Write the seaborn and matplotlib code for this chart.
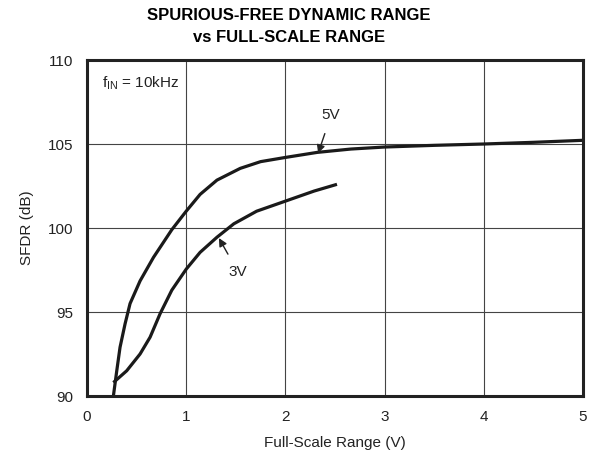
import matplotlib
matplotlib.use("Agg")
import matplotlib.pyplot as plt
import seaborn as sns
import pandas as pd

x_5v = [0.266, 0.30, 0.333, 0.384, 0.434, 0.535, 0.67, 0.855, 1.0, 1.14, 1.31, 1.545, 1.75, 2.0, 2.32, 2.66, 3.0, 3.5, 4.0, 4.5, 5.0]
y_5v = [90.0, 91.5, 92.9, 94.3, 95.5, 96.85, 98.25, 99.9, 101.0, 102.0, 102.85, 103.55, 103.95, 104.2, 104.5, 104.7, 104.82, 104.92, 105.0, 105.1, 105.22]
x_3v = [0.266, 0.40, 0.535, 0.636, 0.737, 0.855, 1.0, 1.14, 1.31, 1.48, 1.71, 2.0, 2.29, 2.52]
y_3v = [90.8, 91.5, 92.5, 93.5, 94.9, 96.3, 97.55, 98.55, 99.45, 100.25, 101.0, 101.6, 102.2, 102.6]
x_ticks = [0, 1, 2, 3, 4, 5]
y_ticks = [90, 95, 100, 105, 110]

sns.set_theme(style="white")
plt.rcParams['font.family'] = ['Liberation Sans', 'DejaVu Sans']

df = pd.concat([
    pd.DataFrame({"x": x_5v, "y": y_5v, "s": "5V"}),
    pd.DataFrame({"x": x_3v, "y": y_3v, "s": "3V"}),
])

fig = plt.figure(figsize=(5.97, 4.67), dpi=100)
ax = fig.add_axes([87/597, 1 - 396/467, 496/597, 336/467])
sns.lineplot(data=df, x="x", y="y", hue="s", palette={"5V": "#1a1a1a", "3V": "#1a1a1a"},
             sort=False, estimator=None, linewidth=2.3, legend=False, ax=ax,
             solid_joinstyle="round", solid_capstyle="butt")
ax.set_xlim(0, 5)
ax.set_ylim(90, 110)
ax.set_xticks(x_ticks)
ax.set_yticks(y_ticks)
ax.tick_params(length=0, labelsize=11, colors="#222222", pad=10)
ax.grid(True, color="#444444", linewidth=0.8)
for sp in ax.spines.values():
    sp.set_visible(True)
    sp.set_color("#222222")
    sp.set_linewidth(2.2)
ax.set_xlabel("Full-Scale Range (V)", fontsize=11, color="#222222", labelpad=9)
ax.set_ylabel("SFDR (dB)", fontsize=11, color="#222222", labelpad=10)
fig.text(289/597, 1 - 8/467, "SPURIOUS-FREE DYNAMIC RANGE\nvs FULL-SCALE RANGE", fontsize=12,
         fontweight="bold", color="#000000", linespacing=1.55, ha="center", va="top")

ax.text(0.15, 108.6, r"f$_{\mathregular{IN}}$ = 10kHz", fontsize=11, color="#222222", va="center", ha="left")
ax.annotate("5V", xy=(2.33, 104.45), xytext=(2.46, 106.7), fontsize=11, color="#222222",
            ha="center", va="center",
            arrowprops=dict(arrowstyle="-|>", color="#222222", lw=1.0, mutation_scale=12, shrinkA=6, shrinkB=0))
ax.annotate("3V", xy=(1.33, 99.4), xytext=(1.52, 97.4), fontsize=11, color="#222222",
            ha="center", va="center",
            arrowprops=dict(arrowstyle="-|>", color="#222222", lw=1.0, mutation_scale=12, shrinkA=6, shrinkB=0))

fig.savefig("out.png", dpi=100)
